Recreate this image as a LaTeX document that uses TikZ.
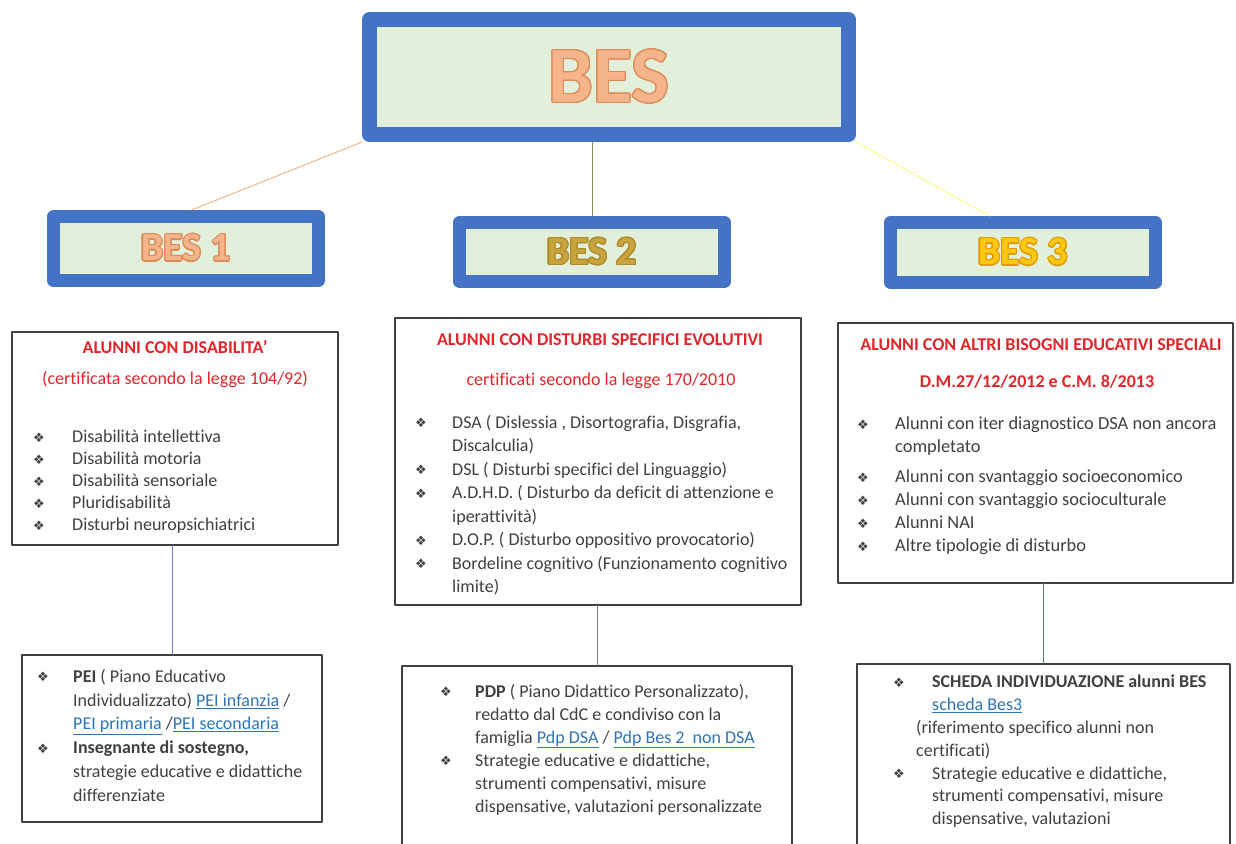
\documentclass[tikz,border=0pt]{standalone}
\usepackage{fontspec}
\setmainfont{Carlito}[Ligatures=NoCommon]
\newfontfamily\symfont{DejaVu Sans}
\usepackage[copies]{contour}
\usetikzlibrary{calc}
\contourlength{1.2pt}
\definecolor{besblue}{HTML}{4472C4}
\definecolor{besfill}{HTML}{E2EFDA}
\definecolor{besorange}{HTML}{F6B48A}
\definecolor{besorangedk}{HTML}{DC8A58}
\definecolor{besgold}{HTML}{C8A43E}
\definecolor{besgolddk}{HTML}{B08A28}
\definecolor{besyellow}{HTML}{FFC814}
\definecolor{besyellowdk}{HTML}{E09C00}
\definecolor{titlered}{HTML}{E0262B}
\definecolor{bodygray}{HTML}{404040}
\definecolor{linkblue}{HTML}{2E74B5}
\newcommand{\bul}[1][36]{\makebox[#1pt][l]{\symfont\fontsize{13}{13}\selectfont\raisebox{0.5pt}{❖}}}
\newcommand{\cnt}[1][36]{\hspace*{#1pt}}
\newcommand{\lnk}[1]{\textcolor{linkblue}{\underline{#1}}}
\newcommand{\besfont}{\fontsize{40}{40}\selectfont\bfseries}
\begin{document}
\begin{tikzpicture}[x=1pt,y=-1pt,line cap=round,line join=round,
  topbox/.style={draw=besblue,fill=besfill,line width=15pt,inner sep=0pt},
  besbox/.style={draw=besblue,fill=besfill,line width=13pt,inner sep=0pt,minimum width=265pt},
  txtbox/.style={draw=black!75,line width=1.2pt,inner sep=0pt},
  head/.style={font=\fontsize{18}{20}\selectfont\bfseries,text=titlered,inner sep=0pt},
  sub/.style={font=\fontsize{18}{20}\selectfont,text=titlered,inner sep=0pt},
  body/.style={anchor=north west,align=left,inner sep=0pt,text=bodygray},
  link/.style={line width=1pt}]
\useasboundingbox (0,0) rectangle (1236,843);
% livello superiore
\node[topbox,minimum width=479pt,minimum height=115pt] (bes) at (609,77)
  {\fontsize{80}{80}\selectfont\bfseries\color{besorange}\contour{besorangedk}{BES}};
\node[besbox,minimum height=64pt] (b1) at (186,248.5)
  {\besfont\color{besorange}\contour{besorangedk}{BES 1}};
\node[besbox,minimum height=59pt] (b2) at (592,252)
  {\besfont\color{besgold}\contour{besgolddk}{BES 2}};
\node[besbox,minimum height=60pt] (b3) at (1023,252.5)
  {\besfont\color{besyellow}\contour{besyellowdk}{BES 3}};
\draw[link,draw=besorange] (bes.south west) -- ($(b1.north west)!0.52!(b1.north east)$);
\draw[link,draw=gray!60!olive] (bes.south -| b2.north) -- (b2.north);
\draw[link,draw=yellow!45] (bes.south east) -- ($(b3.north west)!0.38!(b3.north east)$);
% BES 1
\node[txtbox,minimum width=326pt,minimum height=213pt] (m1) at (175,438.5) {};
\node[head] (m1h) at (175,347) {ALUNNI CON DISABILITA’};
\node[sub] (m1s) at (175,379) {(certificata secondo la legge 104/92)};
\node[body,font=\fontsize{18}{22}\selectfont] (m1t) at (33,430)
  {\bul[39]Disabilità intellettiva\\ \bul[39]Disabilità motoria\\
   \bul[39]Disabilità sensoriale\\ \bul[39]Pluridisabilità\\
   \bul[39]Disturbi neuropsichiatrici};
\node[txtbox,minimum width=300pt,minimum height=167pt] (l1) at (172,738.5) {};
\node[body,font=\fontsize{18}{23.8}\selectfont] (l1t) at (37,669)
  {\bul\textbf{PEI} ( Piano Educativo\\
   \cnt Individualizzato) \lnk{PEI infanzia} /\\
   \cnt\lnk{PEI primaria} /\lnk{PEI secondaria}\\
   \bul\textbf{Insegnante di sostegno,}\\
   \cnt strategie educative e didattiche\\
   \cnt differenziate};
\draw[link,draw=besblue!80] (m1.south -| l1.north) -- (l1.north);
% BES 2
\node[txtbox,minimum width=406pt,minimum height=287pt] (m2) at (598,461.5) {};
\node[head] (m2h) at (600,340) {ALUNNI CON DISTURBI SPECIFICI EVOLUTIVI};
\node[sub] (m2s) at (601,381) {certificati secondo la legge 170/2010};
\node[body,font=\fontsize{18}{23.5}\selectfont] (m2t) at (415,415)
  {\bul[37]DSA ( Dislessia , Disortografia, Disgrafia,\\
   \cnt[37]Discalculia)\\
   \bul[37]DSL ( Disturbi specifici del Linguaggio)\\
   \bul[37]A.D.H.D. ( Disturbo da deficit di attenzione e\\
   \cnt[37]iperattività)\\
   \bul[37]D.O.P. ( Disturbo oppositivo provocatorio)\\
   \bul[37]Bordeline cognitivo (Funzionamento cognitivo\\
   \cnt[37]limite)};
\node[txtbox,minimum width=390pt,minimum height=194pt] (l2) at (597,763) {};
\node[body,font=\fontsize{18}{23}\selectfont] (l2t) at (440,684)
  {\bul[35]\textbf{PDP} ( Piano Didattico Personalizzato),\\
   \cnt[35]redatto dal CdC e condiviso con la\\
   \cnt[35]famiglia \lnk{Pdp DSA} / \lnk{Pdp Bes 2\ \ non DSA}\\
   \bul[35]Strategie educative e didattiche,\\
   \cnt[35]strumenti compensativi, misure\\
   \cnt[35]dispensative, valutazioni personalizzate};
\draw[link,draw=gray] (m2.south -| l2.north) -- (l2.north);
% BES 3
\node[txtbox,minimum width=395pt,minimum height=260pt] (m3) at (1035.5,453) {};
\node[head] (m3h) at (1041,345) {ALUNNI CON ALTRI BISOGNI EDUCATIVI SPECIALI};
\node[head] (m3s) at (1037,382) {D.M.27/12/2012 e C.M. 8/2013};
\node[body,font=\fontsize{18.4}{23}\selectfont] (m3t) at (857,417)
  {\bul[38]Alunni con iter diagnostico DSA non ancora\\
   \cnt[38]completato\\[7pt]
   \bul[38]Alunni con svantaggio socioeconomico\\
   \bul[38]Alunni con svantaggio socioculturale\\
   \bul[38]Alunni NAI\\
   \bul[38]Altre tipologie di disturbo};
\node[txtbox,minimum width=373pt,minimum height=196pt] (l3) at (1043.5,762) {};
\node[body,font=\fontsize{18}{22.8}\selectfont] (l3t) at (893,675)
  {\bul[39]\textbf{SCHEDA INDIVIDUAZIONE alunni BES}\\
   \cnt[39]\lnk{scheda Bes3}\\
   \cnt[23](riferimento specifico alunni non\\
   \cnt[23]certificati)\\
   \bul[39]Strategie educative e didattiche,\\
   \cnt[39]strumenti compensativi, misure\\
   \cnt[39]dispensative, valutazioni};
\draw[link,draw=besblue!60!gray] (m3.south -| l3.north) -- (l3.north);
\end{tikzpicture}
\end{document}
